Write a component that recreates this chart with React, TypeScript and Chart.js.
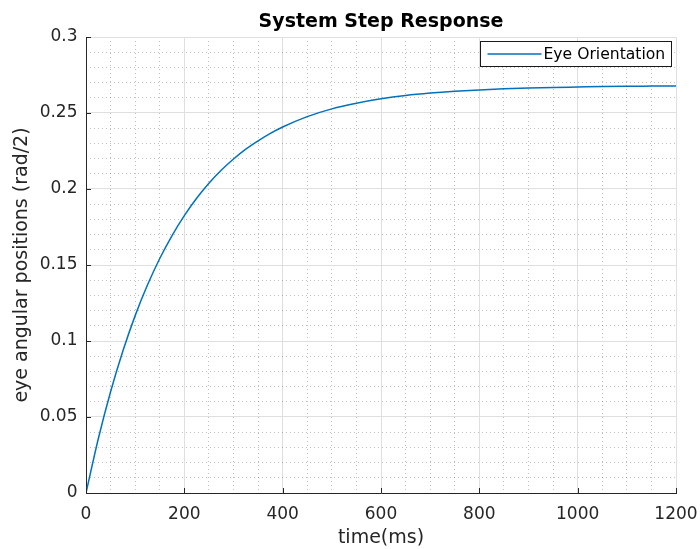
import React, { useEffect, useRef } from 'react';
import { Chart, registerables } from 'chart.js';

Chart.register(...registerables);

const chartTitle = 'System Step Response';
const xAxisTitle = 'time(ms)';
const yAxisTitle = 'eye angular positions (rad/2)';
const seriesLabel = 'Eye Orientation';

const timeMs = [0, 25, 50, 75, 100, 125, 150, 175, 200, 225, 250, 275, 300, 325, 350, 375, 400, 450, 500, 550, 600, 650, 700, 750, 800, 850, 900, 950, 1000, 1050, 1100, 1150, 1200];
const eyeOrientation = [0, 0.0357, 0.0666, 0.0934, 0.1167, 0.1368, 0.1543, 0.1694, 0.1825, 0.1939, 0.2038, 0.2123, 0.2197, 0.2262, 0.2317, 0.2366, 0.2408, 0.2476, 0.2527, 0.2564, 0.2593, 0.2615, 0.2631, 0.2643, 0.2652, 0.2659, 0.2664, 0.2668, 0.2671, 0.2674, 0.2676, 0.2677, 0.2678];

const xTickValues = [0, 200, 400, 600, 800, 1000, 1200];
const xTickLabels = ['0', '200', '400', '600', '800', '1000', '1200'];
const yTickValues = [0, 0.05, 0.1, 0.15, 0.2, 0.25, 0.3];
const yTickLabels = ['0', '0.05', '0.1', '0.15', '0.2', '0.25', '0.3'];

const FONT = '"DejaVu Sans", sans-serif';
const AXIS_COLOR = '#262626';
const MAJOR_GRID = '#dfdfdf';
const MINOR_GRID = 'rgba(0,0,0,0.25)';
const LINE_COLOR = '#0072BD';

const insideTicks = {
  id: 'insideTicks',
  afterDatasetsDraw(chart: any) {
    const { ctx, chartArea } = chart;
    const xs = chart.scales.x;
    const ys = chart.scales.y;
    ctx.save();
    ctx.strokeStyle = AXIS_COLOR;
    ctx.lineWidth = 1;
    ctx.beginPath();
    xs.ticks.forEach((t: any) => {
      const px = Math.round(xs.getPixelForValue(t.value)) + 0.5;
      ctx.moveTo(px, chartArea.bottom);
      ctx.lineTo(px, chartArea.bottom - 5);
    });
    ys.ticks.forEach((t: any) => {
      const py = Math.round(ys.getPixelForValue(t.value)) + 0.5;
      ctx.moveTo(chartArea.left, py);
      ctx.lineTo(chartArea.left + 5, py);
    });
    ctx.stroke();
    ctx.restore();
  },
};

const boxLegend = {
  id: 'boxLegend',
  afterDraw(chart: any) {
    const { ctx, chartArea } = chart;
    const ds = chart.data.datasets[0];
    ctx.save();
    ctx.font = `15.6px ${FONT}`;
    const tw = ctx.measureText(ds.label).width;
    const h = 25;
    const w = 7 + 54 + 2 + tw + 7;
    const right = Math.round(chartArea.right - 5) + 0.5;
    const top = Math.round(chartArea.top + 4) + 0.5;
    const left = Math.round(right - w) + 0.5;
    ctx.fillStyle = '#ffffff';
    ctx.fillRect(left, top, right - left, h);
    ctx.strokeStyle = '#1a1a1a';
    ctx.lineWidth = 1;
    ctx.strokeRect(left, top, right - left, h);
    const my = top + h / 2;
    ctx.strokeStyle = ds.borderColor;
    ctx.lineWidth = 1.5;
    ctx.beginPath();
    ctx.moveTo(left + 7, my);
    ctx.lineTo(left + 61, my);
    ctx.stroke();
    ctx.fillStyle = '#000000';
    ctx.textBaseline = 'middle';
    ctx.textAlign = 'left';
    ctx.fillText(ds.label, left + 63, my + 0.5);
    ctx.restore();
  },
};

export default function App() {
  const ref = useRef<HTMLCanvasElement | null>(null);

  useEffect(() => {
    document.body.style.margin = '0';
    const canvas = ref.current;
    if (!canvas) return;
    const points = timeMs.map((t, i) => ({ x: t, y: eyeOrientation[i] }));
    const chart = new Chart(canvas, {
      type: 'line',
      data: {
        datasets: [
          {
            label: seriesLabel,
            data: points,
            borderColor: LINE_COLOR,
            backgroundColor: LINE_COLOR,
            borderWidth: 1.5,
            pointRadius: 0,
            fill: false,
            cubicInterpolationMode: 'monotone',
            xAxisID: 'x',
            yAxisID: 'y',
          },
        ],
      },
      options: {
        animation: false,
        responsive: true,
        maintainAspectRatio: false,
        layout: { padding: { left: 0, right: 24, top: 0, bottom: 0 } },
        plugins: {
          legend: { display: false },
          tooltip: { enabled: false },
          title: {
            display: true,
            text: chartTitle,
            fullSize: false,
            color: '#000000',
            font: { family: FONT, size: 19, weight: 'bold', lineHeight: 1.2 },
            padding: { top: 11, bottom: 3.2 },
          },
        },
        scales: {
          x: {
            type: 'linear',
            position: 'bottom',
            min: 0,
            max: 1200,
            afterBuildTicks: (scale: any) => {
              scale.ticks = xTickValues.map((v) => ({ value: v }));
            },
            afterFit: (scale: any) => {
              scale.height = 56;
              scale.paddingLeft = 0;
              scale.paddingRight = 0;
            },
            ticks: {
              color: AXIS_COLOR,
              font: { family: FONT, size: 17 },
              padding: 11,
              maxRotation: 0,
              autoSkip: false,
              callback: (v: any, i: number) => xTickLabels[i],
            },
            grid: { color: MAJOR_GRID, lineWidth: 1, drawTicks: false },
            border: { display: true, color: AXIS_COLOR, width: 1 },
            title: {
              display: true,
              text: xAxisTitle,
              color: AXIS_COLOR,
              font: { family: FONT, size: 19, lineHeight: 1.2 },
              padding: { top: 0, bottom: 0 },
            },
          },
          xMinor: {
            type: 'linear',
            position: 'bottom',
            min: 0,
            max: 1200,
            ticks: { display: false, stepSize: 50 },
            afterFit: (scale: any) => {
              scale.height = 0;
              scale.paddingLeft = 0;
              scale.paddingRight = 0;
            },
            grid: {
              color: (c: any) => (c.index % 4 === 0 ? 'rgba(0,0,0,0)' : MINOR_GRID),
              lineWidth: 1,
              drawTicks: false,
            },
            border: { display: false, dash: [1, 3] },
          },
          y: {
            type: 'linear',
            position: 'left',
            min: 0,
            max: 0.3,
            afterBuildTicks: (scale: any) => {
              scale.ticks = yTickValues.map((v) => ({ value: v }));
            },
            afterFit: (scale: any) => {
              scale.width = 86;
              scale.paddingTop = 0;
              scale.paddingBottom = 0;
            },
            ticks: {
              color: AXIS_COLOR,
              font: { family: FONT, size: 17 },
              padding: 8.5,
              autoSkip: false,
              callback: (v: any, i: number) => yTickLabels[i],
            },
            grid: { color: MAJOR_GRID, lineWidth: 1, drawTicks: false },
            border: { display: true, color: AXIS_COLOR, width: 1 },
            title: {
              display: true,
              text: yAxisTitle,
              color: AXIS_COLOR,
              font: { family: FONT, size: 19, lineHeight: 1.2 },
              padding: { top: 10.6, bottom: 0 },
            },
          },
          yMinor: {
            type: 'linear',
            position: 'left',
            min: 0,
            max: 0.3,
            ticks: { display: false, stepSize: 0.01 },
            afterFit: (scale: any) => {
              scale.width = 0;
              scale.paddingTop = 0;
              scale.paddingBottom = 0;
            },
            grid: {
              color: (c: any) => (c.index % 5 === 0 ? 'rgba(0,0,0,0)' : MINOR_GRID),
              lineWidth: 1,
              drawTicks: false,
            },
            border: { display: false, dash: [1, 3] },
          },
        },
      },
      plugins: [insideTicks, boxLegend],
    } as any);
    return () => chart.destroy();
  }, []);

  return (
    <div style={{ width: 700, height: 549, position: 'relative' }}>
      <canvas ref={ref} />
    </div>
  );
}
